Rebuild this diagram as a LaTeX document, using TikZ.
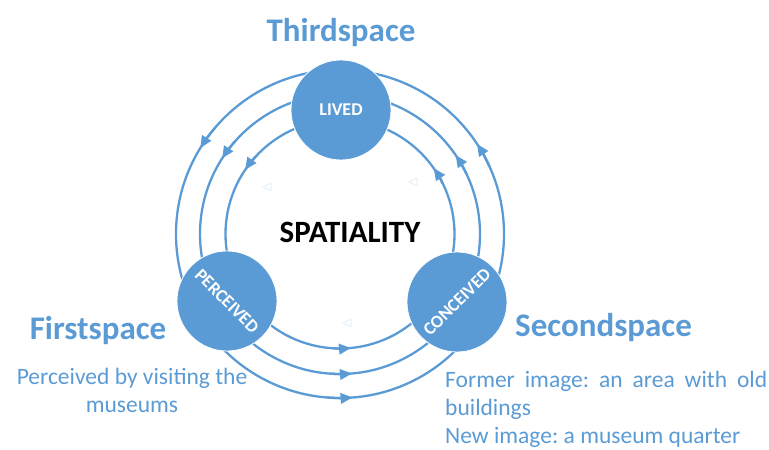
\documentclass[tikz,border=0pt]{standalone}
\usepackage{fontspec}
\setmainfont{Carlito}
\usetikzlibrary{arrows.meta}
\definecolor{obl}{HTML}{5B9BD5}
\definecolor{ghostc}{HTML}{E6EEF7}
\begin{document}
\frenchspacing
\begin{tikzpicture}[x=1pt,y=1pt,
  ring/.style={draw=obl, line width=2.3pt},
  flow/.style={obl, line width=2.3pt, -{Triangle[length=12pt,width=10.5pt]}},
  bubble/.style={circle, fill=obl, draw=white, line width=0.8pt, minimum size=100pt, inner sep=0pt,
     text=white, font=\bfseries\fontsize{18}{20}\selectfont},
  title/.style={text=obl, inner sep=0pt, font=\bfseries\fontsize{33}{38}\selectfont},
  desc/.style={text=obl, inner sep=0pt, font=\frenchspacing\fontsize{23.5}{28}\selectfont},
  ghost/.style={draw=ghostc, line width=1pt, line join=round}]
\useasboundingbox (0,0) rectangle (769,450);
\coordinate (C) at (340,216);
% rings
\foreach \r in {164,140,114.5} \draw[ring] (C) circle (\r pt);
% arrows on the rings
\foreach \r/\a in {164/146.4, 140/145.3, 114.5/143.9,
                   164/31.3, 140/32.3, 114.5/33.1,
                   164/272.4, 140/272.9, 114.5/273.5}
  \draw[flow] ([shift={(\a-7:\r pt)}]C) arc (\a-7:\a+2:\r pt);
% faint ghost marks
\coordinate (g1) at (267,263);
\coordinate (g2) at (413,268);
\coordinate (g3) at (347,127);
\foreach \g in {g1,g2,g3}
  \draw[ghost] ([shift={(4pt,4pt)}]\g) -- ([shift={(-4pt,0pt)}]\g) -- ([shift={(4pt,-4pt)}]\g) -- cycle;
% bubbles
\node[bubble] (lived) at (341,340) {LIVED};
\node[bubble, rotate=-45] (perc) at (227,149) {PERCEIVED};
\node[bubble, rotate=45] (conc) at (457,148) {CONCEIVED};
% centre label
\node[inner sep=0pt, anchor=base, font=\bfseries\fontsize{31}{36}\selectfont] (spat) at (350,207) {SPATIALITY};
% titles
\node[title, anchor=base] (third) at (341,408) {Thirdspace};
\node[title, anchor=base] (first) at (98,110) {Firstspace};
\node[title, anchor=base west] (second) at (515,113) {Secondspace};
% descriptions (base anchor = baseline of the last line)
\node[desc, anchor=base, align=center] (d1) at (132,37) {Perceived by visiting the\\museums};
\node[desc, anchor=base west, align=left] (d2) at (445,6)
  {\makebox[322pt][s]{Former image: an area with old}\\buildings\\New image: a museum quarter};
\end{tikzpicture}
\end{document}
